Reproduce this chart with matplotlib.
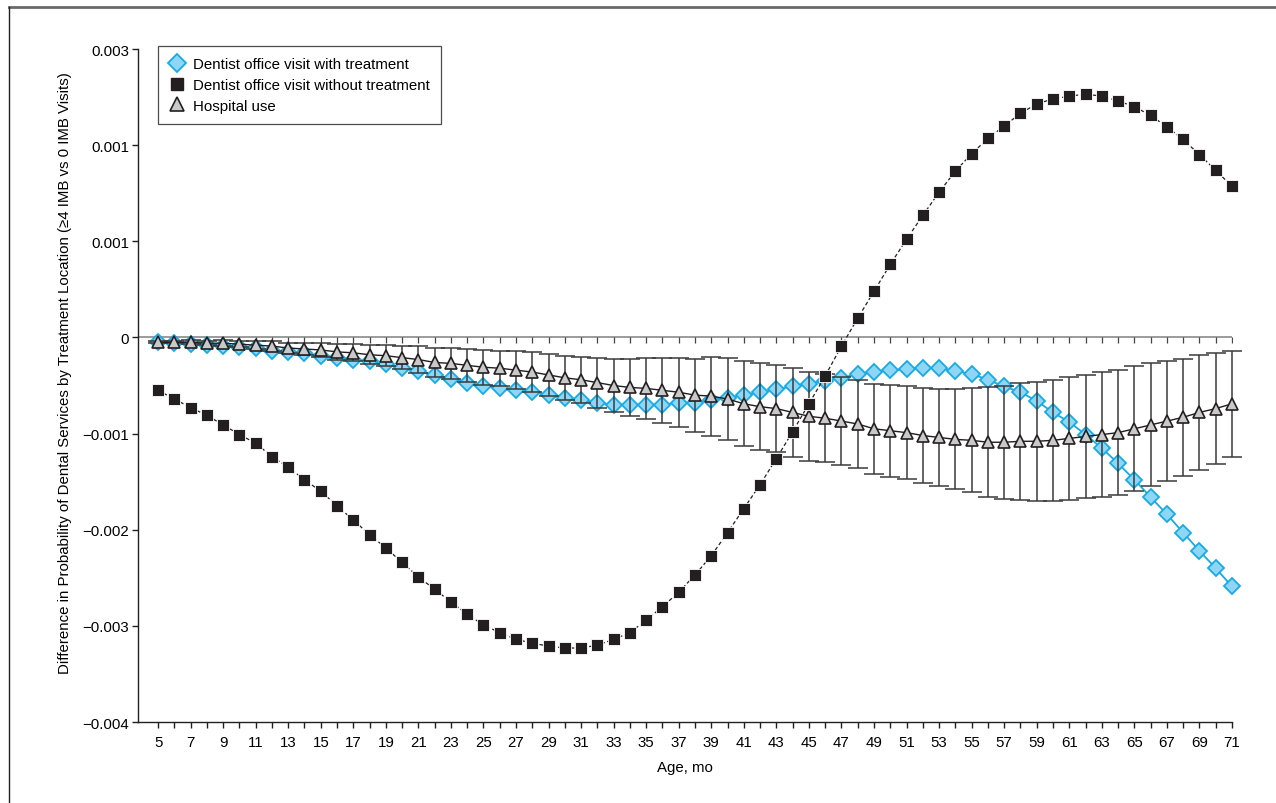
import numpy as np
import matplotlib
matplotlib.use('Agg')
import matplotlib.pyplot as plt
from matplotlib.lines import Line2D

plt.rcParams['font.family'] = ['Liberation Sans Narrow', 'Liberation Sans', 'DejaVu Sans']

# age in months
months = np.arange(5, 72)

# dentist office visit with treatment
with_treat = [-0.00005, -0.00006, -0.00007, -0.00008, -0.00009, -0.00010, -0.00011, -0.00014,
              -0.00015, -0.00016, -0.00019, -0.00021, -0.00023, -0.00025, -0.00028, -0.00032,
              -0.00035, -0.00039, -0.00043, -0.00047, -0.00050, -0.00053, -0.00055, -0.00057,
              -0.00060, -0.00063, -0.00065, -0.00068, -0.00070, -0.00070, -0.00070, -0.00070,
              -0.00068, -0.00068, -0.00065, -0.00063, -0.00060, -0.00057, -0.00054, -0.00051,
              -0.00048, -0.00045, -0.00042, -0.00038, -0.00036, -0.00034, -0.00033, -0.00032,
              -0.00032, -0.00035, -0.00038, -0.00044, -0.00051, -0.00057, -0.00066, -0.00078,
              -0.00088, -0.00101, -0.00115, -0.00131, -0.00148, -0.00166, -0.00184, -0.00203,
              -0.00222, -0.00240, -0.00259]

# dentist office visit without treatment
without_treat = [-0.00055, -0.00064, -0.00073, -0.00081, -0.00091, -0.00101, -0.00110, -0.00124,
                 -0.00135, -0.00148, -0.00160, -0.00175, -0.00190, -0.00205, -0.00219, -0.00234,
                 -0.00249, -0.00262, -0.00275, -0.00288, -0.00299, -0.00307, -0.00314, -0.00318,
                 -0.00321, -0.00323, -0.00323, -0.00320, -0.00314, -0.00307, -0.00294, -0.00280,
                 -0.00265, -0.00247, -0.00227, -0.00203, -0.00178, -0.00153, -0.00126, -0.00098,
                 -0.00069, -0.00040, -0.00009, 0.00020, 0.00048, 0.00076, 0.00102, 0.00127,
                 0.00151, 0.00173, 0.00191, 0.00207, 0.00220, 0.00233, 0.00243, 0.00248,
                 0.00251, 0.00253, 0.00251, 0.00246, 0.00240, 0.00231, 0.00219, 0.00206,
                 0.00190, 0.00174, 0.00157]

# hospital use and its error bar half widths
hospital = [-0.00005, -0.00005, -0.00005, -0.00006, -0.00006, -0.00007, -0.00008, -0.00009,
            -0.00011, -0.00012, -0.00013, -0.00015, -0.00016, -0.00018, -0.00019, -0.00021,
            -0.00023, -0.00026, -0.00027, -0.00029, -0.00031, -0.00032, -0.00034, -0.00036,
            -0.00039, -0.00042, -0.00044, -0.00047, -0.00050, -0.00052, -0.00053, -0.00055,
            -0.00057, -0.00060, -0.00061, -0.00064, -0.00069, -0.00072, -0.00074, -0.00078,
            -0.00082, -0.00084, -0.00087, -0.00090, -0.00095, -0.00097, -0.00099, -0.00102,
            -0.00104, -0.00106, -0.00107, -0.00109, -0.00109, -0.00108, -0.00108, -0.00107,
            -0.00105, -0.00103, -0.00101, -0.00099, -0.00095, -0.00091, -0.00087, -0.00083,
            -0.00078, -0.00074, -0.00069]
hospital_err = [0.00001, 0.00001, 0.00002, 0.00002, 0.00003, 0.00003, 0.00004, 0.00005,
                0.00005, 0.00006, 0.00007, 0.00008, 0.00009, 0.00010, 0.00011, 0.00012,
                0.00014, 0.00015, 0.00016, 0.00017, 0.00018, 0.00018, 0.00020, 0.00021,
                0.00022, 0.00023, 0.00024, 0.00026, 0.00028, 0.00030, 0.00032, 0.00034,
                0.00036, 0.00038, 0.00041, 0.00043, 0.00044, 0.00045, 0.00045, 0.00046,
                0.00046, 0.00046, 0.00046, 0.00046, 0.00047, 0.00048, 0.00048, 0.00049,
                0.00050, 0.00052, 0.00054, 0.00057, 0.00059, 0.00061, 0.00062, 0.00063,
                0.00064, 0.00064, 0.00065, 0.00065, 0.00065, 0.00064, 0.00062, 0.00061,
                0.00060, 0.00058, 0.00055]

ytick_vals = [-0.004, -0.003, -0.002, -0.001, 0, 0.001, 0.002, 0.003]
ytick_labels = ['\u22120.004', '\u22120.003', '\u22120.002', '\u22120.001', '0', '0.001', '0.001', '0.003']

series_labels = ['Dentist office visit with treatment',
                 'Dentist office visit without treatment',
                 'Hospital use']

BLUE_EDGE = '#17abe5'
BLUE_FILL = '#8fd6f6'
DARK = '#231f20'
GRAY_FILL = '#c9c9c9'
FS = 10.8

fig = plt.figure(figsize=(12.76, 8.04), dpi=100)
ax = fig.add_axes([0.1078, 0.1007, 0.8577, 0.8371])

# zero reference line with small ticks hanging below it
ax.axhline(0, color='#8a8a8a', lw=1.2, zorder=1)
ax.plot(months, np.zeros(len(months)), ls='none', marker=3, ms=4, mew=0.9,
        color='#444444', zorder=1)

ax.plot(months, with_treat, color=BLUE_EDGE, lw=1.3, marker='D', ms=8.3,
        mfc=BLUE_FILL, mec=BLUE_EDGE, mew=1.3, zorder=2, clip_on=False)

ax.errorbar(months, hospital, yerr=hospital_err, fmt='none', ecolor='#3a3a3a',
            elinewidth=1.1, capsize=7, capthick=1.1, zorder=3, clip_on=False)
ax.plot(months, hospital, color=DARK, lw=1.0, marker='^', ms=9.3,
        mfc=GRAY_FILL, mec=DARK, mew=1.2, zorder=4, clip_on=False)

ax.plot(months, without_treat, color=DARK, lw=0.9, ls=(0, (3, 2)), marker='s', ms=8.4,
        mfc=DARK, mec='#ffffff', mew=0.6, zorder=5, clip_on=False)

ax.set_xlim(3.74, 71)
ax.set_ylim(-0.004, 0.003)
ax.set_xticks(months)
ax.set_xticklabels([str(m) if m % 2 else '' for m in months])
ax.set_yticks(ytick_vals)
ax.set_yticklabels(ytick_labels)
ax.tick_params(axis='both', direction='out', labelsize=FS, color=DARK, width=1.0)
ax.tick_params(axis='y', length=4, pad=2)
ax.tick_params(axis='x', length=4, pad=5)
ax.spines['top'].set_visible(False)
ax.spines['right'].set_visible(False)
for s in ('left', 'bottom'):
    ax.spines[s].set_color(DARK)
    ax.spines[s].set_linewidth(1.0)

ax.set_xlabel('Age, mo', fontsize=FS, labelpad=8)
ax.set_ylabel('Difference in Probability of Dental Services by Treatment Location '
              '(\u22654 IMB vs 0 IMB Visits)', fontsize=FS)
ax.yaxis.set_label_coords(-0.06, 0.52)

handles = [
    Line2D([], [], ls='none', marker='D', ms=9, mfc=BLUE_FILL, mec=BLUE_EDGE, mew=1.3),
    Line2D([], [], ls='none', marker='s', ms=8.5, mfc=DARK, mec=DARK),
    Line2D([], [], ls='none', marker='^', ms=9.5, mfc=GRAY_FILL, mec=DARK, mew=1.2),
]
leg = ax.legend(handles, series_labels, loc='upper left', bbox_to_anchor=(0.0187, 1.0045),
                borderaxespad=0, fontsize=FS, frameon=True, fancybox=False,
                handlelength=1.0, handletextpad=0.6, labelspacing=0.45,
                borderpad=0.75)
leg.get_frame().set_edgecolor(DARK)
leg.get_frame().set_linewidth(0.9)

# outer frame lines of the figure panel
fig.add_artist(Line2D([0.007, 1.0], [0.990, 0.990], transform=fig.transFigure,
                      color='#6a6a6a', lw=2.0))
fig.add_artist(Line2D([0.007, 0.007], [0.0, 0.990], transform=fig.transFigure,
                      color=DARK, lw=1.0))

fig.savefig('out.png', dpi=100)
